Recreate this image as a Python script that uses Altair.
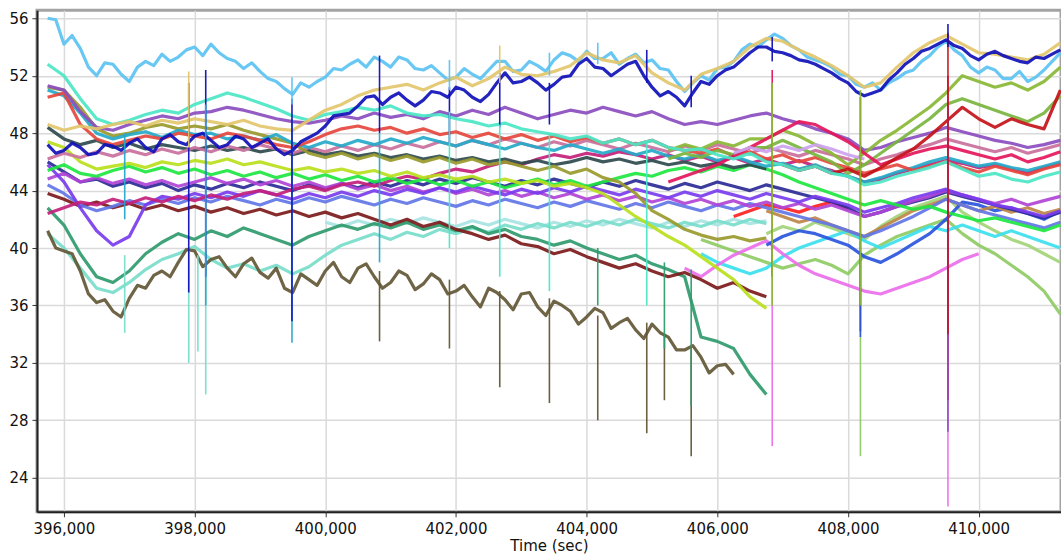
import altair as alt
import pandas as pd

# Sampling steps (seconds) and first sample time
T_STEP = 250
T_FINE = 125
T0 = 395750

# ---- traces ----
# sampled every 125 s
sky_blue = [
    56.0, 55.9, 54.2, 54.8, 53.9, 52.6, 52.0, 52.9, 52.8, 52.1,
    51.6, 52.6, 53.0, 52.7, 53.5, 53.0, 53.3, 53.8, 54.0, 53.4,
    54.2, 53.6, 53.2, 53.0, 52.5, 52.9, 52.3, 51.8, 51.6, 51.1,
    50.7, 51.5, 51.2, 51.6, 51.9, 52.5, 52.4, 52.8, 53.1, 52.6,
    53.3, 53.0, 52.6, 53.3, 53.1, 52.5, 52.4, 52.7, 52.2, 51.7,
    51.9, 52.5, 52.1, 51.8, 52.4, 53.0, 53.0, 52.3, 52.4, 53.0,
    52.7, 52.3, 53.1, 53.6, 53.4, 53.0, 53.7, 53.2, 53.2, 53.6,
    52.8, 53.2, 53.5, 52.9, 53.1, 52.5, 52.4, 51.6, 50.9, 51.5,
    52.0, 51.7, 52.5, 52.6, 53.0, 53.8, 54.2, 54.0, 54.5, 54.9,
    54.6, 54.1, 53.8, 53.3, 53.1, 52.9, 52.6, 52.1, 52.0, 51.4,
    51.2, 51.5, 51.0, 51.5, 51.8, 52.2, 52.4, 53.0, 53.4, 54.0,
    54.4, 53.8, 53.4, 52.6, 52.2, 52.6, 52.4, 51.8, 51.8, 52.3,
    51.6, 51.9, 52.4, 53.0, 53.6]
navy = [
    47.2, 46.6, 46.8, 47.3, 47.0, 46.5, 46.6, 47.2, 47.1, 46.8,
    47.3, 47.6, 47.0, 46.7, 47.6, 47.9, 47.4, 47.2, 47.8, 48.0,
    47.5, 47.0, 47.2, 47.8, 47.6, 47.0, 47.3, 47.6, 46.9, 46.5,
    46.8, 47.4, 47.7, 48.0, 48.5, 49.2, 49.3, 49.4, 49.9, 50.5,
    50.6, 50.0, 50.5, 50.8, 50.3, 49.9, 50.3, 50.9, 50.8, 50.5,
    51.2, 51.0, 50.5, 50.2, 50.7, 51.5, 52.2, 51.5, 51.6, 51.9,
    51.5, 51.0, 51.4, 51.9, 52.0, 52.8, 53.2, 52.6, 52.5, 52.0,
    52.4, 52.8, 53.0, 52.0, 51.2, 50.6, 50.9, 50.5, 49.9, 50.8,
    51.6, 51.4, 52.0, 52.4, 52.6, 53.1, 53.6, 54.0, 54.0, 53.7,
    53.6, 53.4, 53.1, 53.0, 52.8, 52.5, 52.2, 51.8, 51.5, 50.9,
    50.6, 50.8, 51.0, 51.7, 52.2, 52.8, 53.2, 53.7, 53.9, 54.2,
    54.5, 54.1, 53.9, 53.4, 53.1, 53.5, 53.7, 53.4, 53.2, 53.0,
    52.9, 53.3, 53.2, 53.5, 53.8]
olive_brown = [
    41.2, 40.0, 39.8, 39.6, 38.4, 36.8, 36.2, 36.4, 35.6, 35.2,
    36.5, 37.4, 37.2, 38.1, 38.4, 38.0, 39.0, 39.9, 39.8, 38.7,
    39.2, 39.4, 38.6, 38.0, 38.9, 39.3, 38.3, 37.9, 38.6, 37.2,
    36.9, 38.2, 37.8, 37.4, 38.4, 39.0, 38.0, 37.6, 38.6, 38.9,
    38.0, 37.2, 37.6, 38.4, 38.1, 37.1, 37.5, 38.2, 37.8, 36.8,
    37.0, 37.4, 36.6, 35.9, 37.2, 36.9, 36.4, 35.7, 36.8, 36.9,
    35.9, 35.3, 36.3, 36.0, 35.6, 34.7, 35.2, 35.8, 35.5, 34.4,
    34.8, 35.1, 34.3, 33.7, 34.7, 34.1, 33.8, 32.9, 32.9, 33.2,
    32.4, 31.3, 31.8, 31.9, 31.2]

# sampled every 250 s
gold = [
    48.6, 48.2, 48.5, 48.3, 48.6, 48.8, 48.5, 48.9, 48.7, 49.0,
    48.8, 48.6, 48.9, 48.5, 48.3, 48.2, 48.9, 49.6, 50.0, 50.6,
    51.0, 51.2, 51.4, 51.0, 51.5, 51.9, 51.3, 51.8, 52.6, 52.1,
    52.0, 52.3, 52.7, 53.6, 53.1, 52.9, 53.4, 52.2, 51.5, 51.0,
    52.1, 52.5, 53.0, 54.0, 54.6, 54.4, 53.8, 53.3, 52.7, 52.0,
    51.2, 51.5, 52.6, 53.6, 54.3, 54.8, 54.2, 53.6, 53.5, 53.3,
    53.1, 53.5, 54.3]
turquoise = [
    52.8, 52.0, 50.4, 49.0, 48.6, 48.9, 49.3, 49.6, 49.4, 50.0,
    50.4, 50.8, 50.5, 50.1, 49.7, 49.2, 48.9, 49.3, 49.5, 49.8,
    49.6, 49.9, 49.4, 49.2, 49.3, 49.0, 48.8, 48.5, 48.7, 48.3,
    48.1, 47.9, 47.6, 47.8, 47.3, 47.6, 47.2, 47.5, 47.0, 46.8,
    46.9, 46.5, 46.2, 46.6, 46.0, 45.8, 45.4, 45.7, 45.2, 45.0,
    44.4, 44.6, 45.0, 45.3, 45.6, 46.0, 45.5, 45.0, 45.2, 44.8,
    44.6, 45.0, 45.3]
purple = [
    51.3, 51.0, 49.5, 48.4, 48.2, 48.6, 48.9, 49.2, 49.0, 49.4,
    49.5, 49.8, 49.6, 49.3, 49.0, 48.8, 48.7, 48.9, 49.2, 49.0,
    49.4, 49.1, 49.3, 49.0, 49.5, 49.2, 49.6, 49.3, 49.8, 49.4,
    49.0, 49.3, 49.6, 49.4, 49.8, 49.5, 49.2, 49.5, 49.0, 48.6,
    48.8, 48.6, 48.9, 49.2, 49.4, 49.0, 48.7, 48.3, 48.0, 47.6,
    46.8, 47.0, 47.4, 47.7, 48.0, 48.4, 48.1, 47.8, 47.5, 47.3,
    47.0, 47.2, 47.5]
tomato = [
    50.5, 50.8, 48.6, 47.6, 47.2, 47.5, 47.8, 47.6, 48.0, 47.8,
    47.6, 48.0, 47.8, 47.5, 47.2, 47.0, 47.4, 47.9, 48.3, 48.5,
    48.2, 48.4, 48.0, 48.3, 47.9, 48.1, 47.7, 48.0, 47.6, 47.9,
    47.5, 47.8, 47.4, 47.7, 47.3, 47.6, 47.2, 47.5, 47.0, 46.8,
    46.6, 46.9, 46.4, 46.7, 46.2, 46.5, 46.0, 46.3, 45.9, 45.6,
    45.2, 45.5, 45.8, 45.4, 45.7, 46.0, 45.6, 45.3, 45.7, 45.4,
    45.1, 45.5, 45.8]
olive = [
    51.2, 51.0, 49.8, 48.3, 47.8, 48.0, 48.4, 48.6, 48.3, 48.5,
    48.3, 48.6, 48.2, 47.9, 47.6, 47.3, 46.6, 46.3, 46.6, 46.2,
    46.5, 46.1, 46.4, 46.0, 46.3, 45.9, 46.2, 45.8, 46.0, 45.7,
    45.4, 45.7, 45.2, 45.5, 44.9, 44.6, 43.8, 42.6, 42.0, 41.3,
    40.9, 40.6, 40.8, 40.5, 40.7]
teal = [
    51.0, 50.6, 49.4, 48.0, 47.6, 47.9, 48.1, 47.7, 48.2, 47.9,
    48.0, 47.6, 47.8, 47.5, 47.9, 47.3, 47.0, 47.4, 47.1, 47.5,
    47.2, 47.6, 47.3, 47.7, 47.4, 47.1, 47.5, 47.2, 46.9, 47.3,
    47.0, 46.8, 47.2, 46.9, 46.6, 46.9, 46.5, 46.8, 46.4, 46.2,
    46.5, 46.1, 46.4, 46.0, 45.7, 45.9, 45.5, 45.8, 45.3, 45.0,
    44.6, 44.9, 45.3, 45.6, 46.0, 46.3, 46.0, 45.7, 45.9, 45.6,
    45.4, 45.7, 46.0]
dark_slate = [
    48.4, 47.6, 47.2, 47.5, 47.0, 47.3, 46.9, 47.2, 47.0, 46.8,
    47.1, 46.8, 47.0, 46.7, 46.9, 46.5, 46.8, 46.5, 46.7, 46.4,
    46.6, 46.3, 46.5, 46.2, 46.4, 46.1, 46.3, 46.0, 46.2, 45.9,
    46.1, 45.8, 46.0, 46.3, 46.0, 46.2, 45.9, 46.1, 45.8, 46.0,
    45.7, 45.9, 45.6, 45.8, 45.5]
yellow_green = [
    47.4, 47.0, 46.0, 45.5, 45.7, 45.9, 45.6, 46.0, 45.8, 46.1,
    45.9, 46.2, 45.8, 46.0, 45.7, 45.4, 45.6, 45.3, 45.5, 45.2,
    45.4, 45.0, 45.3, 44.9, 45.1, 44.8, 45.0, 44.6, 44.8, 44.5,
    44.7, 44.3, 44.5, 44.2, 43.8, 43.0, 42.2, 41.5, 40.8, 40.2,
    39.4, 38.6, 37.8, 36.6, 35.8]
lime = [
    45.4, 45.8, 45.2, 45.0, 45.4, 45.7, 45.3, 45.6, 45.2, 45.5,
    45.1, 45.4, 45.0, 45.3, 44.9, 45.2, 44.8, 45.1, 44.7, 45.0,
    44.6, 44.9, 44.5, 44.8, 44.4, 44.7, 44.3, 44.6, 44.2, 44.5,
    44.8, 44.4, 44.7, 44.3, 44.6, 44.9, 45.2, 45.0, 45.4, 45.6,
    45.3, 45.7, 45.4, 45.8, 45.5, 45.1, 44.6, 44.2, 43.8, 43.4,
    43.0, 43.3, 43.0, 42.7, 42.9, 42.5, 42.2, 41.9, 42.1, 41.8,
    41.5, 41.2, 41.6]
blue_violet = [
    45.8, 44.6, 42.8, 41.2, 40.2, 40.8, 43.0, 43.6, 43.4, 43.8,
    43.5, 43.9, 43.6, 44.0, 43.7, 43.4, 43.8, 43.5, 43.9, 43.6,
    44.0, 43.7, 44.1, 43.8, 44.2, 43.9, 44.3, 44.0, 43.7, 44.1,
    43.8, 44.2, 43.9, 44.3, 44.0, 43.7, 44.1, 43.8, 43.5, 43.9,
    43.6, 44.0, 43.7, 43.4, 43.8, 43.5, 43.2, 43.6, 43.3, 43.0,
    42.5, 42.8, 43.1, 43.5, 43.8, 44.1, 43.7, 43.4, 43.0, 42.8,
    42.5, 42.2, 42.6]
maroon = [
    43.8, 43.4, 42.9, 43.2, 42.8, 43.1, 42.7, 43.0, 42.6, 42.9,
    42.5, 42.8, 42.4, 42.7, 42.3, 42.6, 42.2, 42.5, 42.1, 42.4,
    42.0, 41.6, 42.0, 41.5, 41.8, 41.3, 41.0, 40.6, 40.9, 40.3,
    40.1, 39.6, 39.9, 39.4, 39.0, 38.6, 38.9, 38.4, 38.0, 38.3,
    37.8, 37.2, 37.6, 37.0, 36.6]
violet_red = [
    42.4, 42.8, 43.2, 43.0, 43.4, 43.1, 43.5, 43.2, 43.6, 43.3,
    43.7, 43.4, 43.8, 44.0, 43.7, 44.1, 44.3, 44.0, 44.4, 44.6,
    44.3, 44.7, 45.0, 44.8, 45.2, 45.5, 45.3, 45.7, 46.0, 45.8,
    46.2, 46.5, 46.3, 46.6, 46.4, 46.7, 46.5, 46.2, 46.5, 46.1,
    46.4, 46.0, 46.3, 45.9, 46.2, 45.8, 46.1, 45.7, 45.4, 45.0,
    44.6, 44.8, 45.2, 45.5, 45.8, 46.1, 45.9, 45.6, 45.8, 45.5,
    45.2, 45.6, 45.9]
rose = [
    46.2, 46.6, 46.3, 46.7, 46.4, 46.8, 46.5, 46.9, 46.6, 47.0,
    46.7, 47.1, 46.8, 47.2, 46.9, 46.6, 47.0, 46.7, 47.1, 46.8,
    47.2, 46.9, 47.3, 47.0, 47.4, 47.1, 47.5, 47.2, 47.6, 47.3,
    47.0, 47.4, 47.1, 47.5, 47.2, 46.9, 47.3, 47.0, 46.7, 47.1,
    46.8, 47.2, 46.9, 46.6, 47.0, 46.7, 46.4, 46.8, 46.5, 46.2,
    45.8, 46.2, 46.5, 46.9, 47.2, 47.6, 47.3, 47.0, 46.7, 47.0,
    46.6, 46.9, 47.2]
sea_green = [
    42.8, 41.6, 39.6, 38.0, 37.6, 38.4, 39.6, 40.4, 41.0, 40.6,
    41.2, 40.8, 41.4, 41.0, 40.6, 40.2, 40.8, 41.2, 41.6, 41.3,
    41.7, 41.4, 41.8, 41.3, 41.6, 41.2, 41.5, 41.0, 41.3, 40.8,
    40.6, 40.2, 40.5, 40.0, 39.6, 39.2, 39.5, 38.9, 38.5, 38.0,
    33.8, 33.5, 33.0, 31.2, 29.8]
aquamarine = [
    41.0, 40.0, 38.6, 37.2, 36.9, 37.6, 38.5, 39.2, 39.6, 40.1,
    39.2, 38.6, 38.9, 38.4, 38.8, 38.2, 38.7, 39.5, 40.2, 40.6,
    41.0, 40.6, 41.1, 40.8, 41.3, 41.0, 41.4, 41.1, 41.6, 41.3,
    41.7, 41.4, 41.8, 41.5, 41.9, 41.6, 42.0, 41.7, 41.4, 41.8,
    41.5, 41.9, 41.6, 42.0, 41.7]
light_green = [
    40.6, 40.2, 39.8, 39.4, 39.0, 38.6, 38.9, 39.2, 38.8, 38.2,
    39.5, 40.2, 40.8, 41.2, 41.6, 42.0, 41.0, 40.2, 39.6, 38.8,
    38.0, 37.0, 35.4]
pale_green = [
    41.0, 41.5, 41.2, 41.8, 41.4, 41.0, 40.6, 41.5, 42.2, 42.8,
    43.2, 43.6, 42.5, 41.8, 41.2, 40.6, 40.2, 39.6, 39.0]
grass = [
    46.8, 47.2, 46.9, 47.4, 47.1, 47.6, 47.6, 48.2, 47.8, 47.2,
    46.6, 45.8, 46.6, 47.5, 48.2, 49.0, 49.8, 50.8, 52.0, 51.6,
    51.2, 51.5, 51.0, 51.6, 52.6]
leaf = [
    46.2, 46.6, 46.3, 46.8, 46.5, 47.0, 47.0, 47.5, 47.0, 46.5,
    46.0, 45.2, 45.8, 46.6, 47.4, 48.2, 49.0, 50.0, 50.4, 50.0,
    49.6, 49.2, 48.8, 49.4, 50.6]
firebrick = [
    45.8, 45.4, 45.7, 45.2, 45.5, 45.0, 45.6, 46.3, 46.9, 47.8,
    48.8, 49.8, 49.0, 48.4, 49.0, 48.6, 48.3, 51.0]
crimson = [
    44.6, 45.0, 45.4, 45.8, 46.4, 47.0, 47.6, 48.2, 48.8, 48.6,
    48.0, 47.4, 46.6, 45.8, 46.2, 46.6, 46.9, 47.1, 46.8, 46.5,
    46.2, 46.5, 46.0, 46.3, 46.7]
violet = [
    38.6, 38.0, 38.8, 39.5, 40.0, 40.5, 39.6, 38.8, 38.2, 37.8,
    37.4, 37.0, 36.8, 37.2, 37.6, 38.0, 38.6, 39.2, 39.6]
royal_blue = [
    40.2, 40.8, 41.2, 41.0, 40.6, 40.2, 39.4, 39.0, 39.6, 40.3,
    41.0, 42.0, 43.2, 43.0, 42.6, 42.8, 42.4, 42.0, 42.6]
orchid = [
    44.8, 45.2, 44.6, 44.9, 44.5, 44.8, 44.4, 44.7, 44.3, 44.6,
    44.9, 44.5, 44.8, 44.4, 44.7, 44.3, 44.6, 44.2, 44.5, 44.1,
    44.4, 44.0, 44.3, 43.9, 44.2, 43.8, 44.1, 43.7, 44.0, 43.6,
    43.9, 43.5, 43.8, 43.4, 43.7, 43.3, 43.6, 43.2, 43.5, 43.1,
    43.4, 43.0, 43.3, 42.9, 43.2, 42.8, 43.1, 42.7, 43.0, 42.6,
    42.2, 42.5, 42.9, 43.3, 43.6, 44.0, 43.7, 43.4, 43.1, 43.4,
    43.0, 43.3, 43.6]
peru = [
    42.6, 42.2, 41.8, 42.1, 41.6, 41.2, 40.8, 41.4, 42.0, 42.6,
    43.0, 43.4, 43.0, 42.6, 42.9, 42.5, 42.8, 42.4, 42.7]
slate_blue = [
    46.0, 45.3, 44.6, 44.8, 44.3, 44.6, 44.2, 44.5, 44.0, 44.4,
    44.1, 44.5, 44.2, 44.6, 44.3, 44.0, 44.4, 44.1, 44.5, 44.2,
    44.6, 44.3, 44.7, 44.4, 44.8, 44.5, 44.9, 44.6, 44.3, 44.7,
    44.4, 44.8, 44.5, 44.2, 44.6, 44.3, 44.7, 44.4, 44.1, 44.5,
    44.2, 44.6, 44.3, 44.0, 44.4, 44.1, 43.8, 43.5, 43.2, 42.8,
    42.2, 42.5, 42.9, 43.2, 43.5, 43.9, 43.6, 43.3, 43.0, 42.7,
    42.4, 42.1, 42.5]
red = [42.2, 42.6, 43.0, 42.8, 42.5, 42.9, 43.2, 42.7]
cyan = [
    39.6, 39.0, 38.6, 38.2, 38.6, 39.4, 40.0, 40.4, 40.8, 41.2,
    40.5, 40.0, 40.5, 41.0, 41.5, 41.2, 41.6, 41.2, 40.8, 41.2,
    40.8, 40.4, 40.0]
pale_turquoise = [
    41.8, 41.5, 41.9, 41.6, 42.0, 41.7, 42.1, 41.8, 41.5, 41.9,
    41.6, 42.0, 41.7, 41.4, 41.8, 41.5, 41.9, 41.6, 42.0, 41.7,
    41.4, 41.8, 41.5, 41.9, 41.6, 42.0, 41.7, 41.9]
lavender = [46.6, 47.0, 46.7, 47.1, 46.8, 47.2, 46.9, 46.5, 46.2]
cornflower = [
    44.4, 43.8, 43.0, 42.6, 42.9, 43.3, 43.0, 43.4, 43.1, 43.5,
    43.2, 43.6, 43.3, 43.0, 43.4, 43.1, 43.5, 43.2, 43.6, 43.3,
    43.0, 43.4, 43.1, 43.5, 43.2, 42.9, 43.3, 43.0, 43.4, 43.1,
    42.8, 43.2, 42.9, 43.3, 43.0, 42.7, 43.1, 42.8, 43.2, 42.9,
    42.6, 43.0, 42.7, 43.1, 42.8, 42.5, 42.2, 41.9, 41.6, 41.2,
    40.8, 41.2, 41.7, 42.2, 42.8, 43.4, 43.0, 42.6, 42.3, 42.0,
    41.7, 41.4, 41.8]

# name, colour, start time, step, samples  (listed bottom-most drawn first)
SERIES = [
    ("pale_turquoise", "#A6E4E2", 400000, T_STEP, pale_turquoise),
    ("aquamarine", "#78DDCB", T0, T_STEP, aquamarine),
    ("sea_green", "#2F9A6C", T0, T_STEP, sea_green),
    ("olive_brown", "#635836", T0, T_FINE, olive_brown),
    ("pale_green", "#A3D47A", 406750, T_STEP, pale_green),
    ("light_green", "#8FCB64", 405750, T_STEP, light_green),
    ("cyan", "#3CDFEF", 405750, T_STEP, cyan),
    ("violet", "#EC6FEC", 405500, T_STEP, violet),
    ("royal_blue", "#2A55DE", 406750, T_STEP, royal_blue),
    ("peru", "#BE8648", 406750, T_STEP, peru),
    ("red", "#FF2222", 406250, T_STEP, red),
    ("maroon", "#7C1A1A", T0, T_STEP, maroon),
    ("cornflower", "#6276E6", T0, T_STEP, cornflower),
    ("slate_blue", "#2B2B96", T0, T_STEP, slate_blue),
    ("orchid", "#B044D6", T0, T_STEP, orchid),
    ("blue_violet", "#7A3CEE", T0, T_STEP, blue_violet),
    ("violet_red", "#C4207A", T0, T_STEP, violet_red),
    ("lime", "#1EE640", T0, T_STEP, lime),
    ("yellow_green", "#BADF1C", T0, T_STEP, yellow_green),
    ("dark_slate", "#2E4A4E", T0, T_STEP, dark_slate),
    ("rose", "#C9709C", T0, T_STEP, rose),
    ("olive", "#999A2C", T0, T_STEP, olive),
    ("teal", "#25A9C9", T0, T_STEP, teal),
    ("tomato", "#E5473D", T0, T_STEP, tomato),
    ("purple", "#8A4DBE", T0, T_STEP, purple),
    ("leaf", "#79B53F", 405250, T_STEP, leaf),
    ("grass", "#8AB936", 405250, T_STEP, grass),
    ("crimson", "#E4175C", 405250, T_STEP, crimson),
    ("firebrick", "#C41218", 407000, T_STEP, firebrick),
    ("lavender", "#CDA2F0", 406250, T_STEP, lavender),
    ("turquoise", "#4CE6C6", T0, T_STEP, turquoise),
    ("sky_blue", "#5BC3F2", T0, T_FINE, sky_blue),
    ("gold", "#E3C56C", T0, T_STEP, gold),
    ("navy", "#1010B8", T0, T_FINE, navy),
]

# Short disturbances: time, trace, lowest and highest value reached
spike_time = [396930, 396930, 397910, 397910, 397910, 398050, 398170, 398170, 398170,
              399490, 399490, 399490, 400830, 400830, 400830, 401900, 401900, 401900, 401900,
              402670, 402670, 402670, 402670, 403430, 403430, 403430, 403430,
              404170, 404170, 404170, 404920, 404920, 404920, 405190, 405190,
              405600, 405600, 405600, 406840, 406840, 406840, 406840,
              408190, 408190, 408190, 408190, 409530, 409530, 409530, 409530, 409530]
spike_trace = ["aquamarine", "teal", "aquamarine", "navy", "gold", "aquamarine", "aquamarine", "navy", "teal",
               "teal", "navy", "sky_blue", "olive_brown", "navy", "teal", "olive_brown", "navy", "sky_blue", "turquoise",
               "olive_brown", "navy", "gold", "turquoise", "olive_brown", "navy", "sky_blue", "turquoise",
               "olive_brown", "sky_blue", "sea_green", "olive_brown", "navy", "turquoise", "olive_brown", "sea_green",
               "olive_brown", "navy", "sea_green", "violet", "crimson", "grass", "navy",
               "light_green", "firebrick", "royal_blue", "grass", "violet", "crimson", "purple", "firebrick", "navy"]
spike_low = [34.1, 42.0, 32.0, 36.9, 47.0, 32.8, 29.8, 38.0, 36.0,
             33.4, 34.9, 50.0, 33.5, 48.0, 39.0, 33.0, 47.3, 51.0, 40.0,
             30.3, 48.4, 51.5, 38.0, 29.2, 48.6, 52.0, 37.0,
             28.0, 52.8, 36.0, 27.1, 51.5, 36.0, 29.4, 33.0,
             25.5, 49.8, 29.0, 26.2, 38.0, 36.0, 53.0,
             25.5, 34.2, 33.8, 36.0, 22.0, 29.4, 27.2, 34.0, 54.0]
spike_high = [39.5, 48.0, 39.8, 51.5, 52.3, 39.5, 39.8, 52.4, 50.0,
              49.0, 50.4, 51.9, 38.4, 53.4, 48.0, 37.8, 51.2, 53.1, 49.5,
              37.0, 52.2, 54.1, 48.6, 36.5, 51.5, 53.6, 48.0,
              35.3, 54.3, 40.0, 34.8, 53.8, 47.5, 34.0, 39.0,
              33.0, 52.0, 38.5, 40.0, 52.4, 51.5, 54.7,
              39.5, 50.5, 40.5, 51.0, 40.0, 52.0, 50.0, 55.0, 55.6]

# Axis tick positions
x_ticks = list(range(396000, 411001, 2000))
y_ticks = list(range(24, 57, 2))

rows = []
for name, _color, t_start, step, samples in SERIES:
    for k, val in enumerate(samples):
        rows.append({"series": name, "t": t_start + step * k, "v": val})
traces = pd.DataFrame(rows)

spikes = pd.DataFrame({"t": spike_time, "series": spike_trace,
                       "lo": spike_low, "hi": spike_high})

names = [s[0] for s in SERIES]
colors = [s[1] for s in SERIES]
color = alt.Color("series:N", scale=alt.Scale(domain=names, range=colors), legend=None)

x_scale = alt.Scale(domain=[395587, 411260], nice=False, zero=False)
y_scale = alt.Scale(domain=[21.63, 56.56], nice=False, zero=False)

x_axis = alt.Axis(
    title="Time (sec)",
    values=x_ticks,
    format=",d",
    tickSize=5,
    labelPadding=5,
    labelOverlap=False,
    labelFlush=False,
    titlePadding=2,
)
y_axis = alt.Axis(
    title=None,
    values=y_ticks,
    tickSize=5,
    labelPadding=4,
    labelOverlap=False,
    labelFlush=False,
)

lines = alt.Chart(traces).mark_line(strokeWidth=3.2, strokeJoin="round", opacity=0.92).encode(
    x=alt.X("t:Q", scale=x_scale, axis=x_axis),
    y=alt.Y("v:Q", scale=y_scale, axis=y_axis),
    color=color,
)

spike_rules = alt.Chart(spikes).mark_rule(strokeWidth=1.6, opacity=0.95).encode(
    x=alt.X("t:Q", scale=x_scale),
    y=alt.Y("lo:Q", scale=y_scale),
    y2="hi:Q",
    color=color,
)

chart = (
    alt.layer(lines, spike_rules)
    .properties(
        width=1025,
        height=502,
        autosize=alt.AutoSizeParams(type="none"),
        padding={"left": 37, "top": 10, "right": 0, "bottom": 42},
        background="white",
    )
    .configure_view(stroke="#A3A3A3", strokeWidth=3)
    .configure_axis(
        labelFont="DejaVu Sans",
        labelFontSize=15,
        labelColor="#111111",
        titleFont="DejaVu Sans",
        titleFontSize=15,
        titleFontWeight="normal",
        titleColor="#111111",
        gridColor="#DADADA",
        gridWidth=1.5,
        domainColor="#222222",
        domainWidth=2,
        tickColor="#333333",
        tickWidth=1,
    )
)

chart.save("out.html", embed_options={"renderer": "svg", "actions": False})
